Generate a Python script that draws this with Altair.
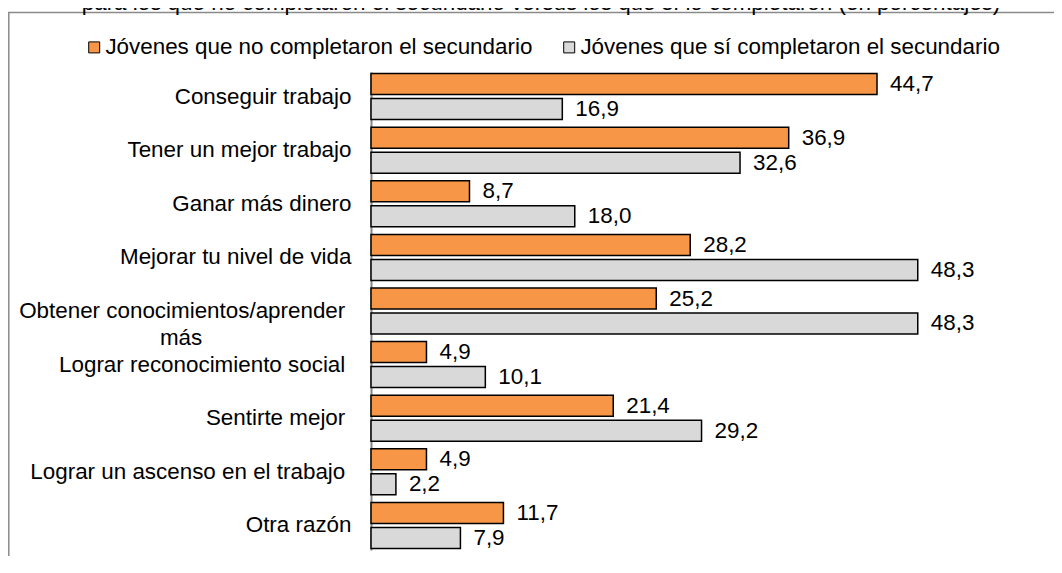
import altair as alt
import pandas as pd

categories = [
    "Conseguir trabajo",
    "Tener un mejor trabajo",
    "Ganar más dinero",
    "Mejorar tu nivel de vida",
    "Obtener conocimientos/aprender más",
    "Lograr reconocimiento social ",
    "Sentirte mejor ",
    "Lograr un ascenso en el trabajo ",
    "Otra razón",
]
series = [
    "Jóvenes que no completaron el secundario",
    "Jóvenes que sí completaron el secundario",
]
no_values = [44.7, 36.9, 8.7, 28.2, 25.2, 4.9, 21.4, 4.9, 11.7]
si_values = [16.9, 32.6, 18.0, 48.3, 48.3, 10.1, 29.2, 2.2, 7.9]
colors = ["#F79646", "#D9D9D9"]
title_text = ("para los que no completaron el secundario versus los que sí "
              "lo completaron (en porcentajes)")

NB = "\u00a0"
ZW = "\u200b"  # keeps trailing no-break spaces from being trimmed
FONT = "Liberation Sans"
FS = 22.4


def disp(c):
    return c[:-1] + NB + ZW if c.endswith(" ") else c


cats_disp = [disp(c) for c in categories]

rows = []
for i, c in enumerate(cats_disp):
    for s, vals in zip(series, [no_values, si_values]):
        v = vals[i]
        rows.append({"cat": c, "serie": s, "valor": v,
                     "etiqueta": f"{v:.1f}".replace(".", ",")})
df = pd.DataFrame(rows)

label_expr = (
    "indexof(datum.label, 'aprender más') >= 0 ? "
    "['Obtener conocimientos/aprender" + NB + ZW + "', 'más" + NB * 24 + ZW + "'] : datum.label"
)

y = alt.Y(
    "cat:N",
    sort=cats_disp,
    scale=alt.Scale(paddingInner=0.142, paddingOuter=0.03),
    axis=alt.Axis(
        title=None, ticks=False, grid=False,
        domainColor="#868686", domainWidth=2,
        labelFont=FONT, labelFontSize=FS, labelColor="black",
        labelPadding=20, labelLimit=600, labelLineHeight=27,
        labelExpr=label_expr,
    ),
)
yoff = alt.YOffset("serie:N", sort=series, scale=alt.Scale(paddingInner=0.16))
x = alt.X("valor:Q", scale=alt.Scale(domain=[0, 50]), axis=None)

base = alt.Chart(df)

bars = base.mark_bar(stroke="black", strokeWidth=1.5).encode(
    x=x, y=y, yOffset=yoff,
    color=alt.Color(
        "serie:N", sort=series,
        scale=alt.Scale(domain=series, range=colors),
        legend=alt.Legend(
            title=None, orient="none", legendX=-288, legendY=-36,
            direction="horizontal", symbolType="square", symbolSize=121,
            symbolStrokeColor="black", symbolStrokeWidth=1, symbolOpacity=1,
            labelFont=FONT, labelFontSize=FS, labelColor="black",
            labelLimit=700, labelOffset=0, columnPadding=25, padding=0,
        ),
    ),
)

labels = base.mark_text(
    align="left", baseline="middle", dx=13, font=FONT, fontSize=FS, color="black"
).encode(x=x, y=y, yOffset=yoff, text="etiqueta:N")

frame = alt.Chart(pd.DataFrame({"k": [0]})).mark_rect(
    fill="transparent", stroke="#8a8a8a", strokeWidth=1.5
).encode(
    x=alt.value(-362.2), x2=alt.value(900),
    y=alt.value(-59.5), y2=alt.value(700),
)

title = alt.Chart(pd.DataFrame({"t": [title_text]})).mark_text(
    align="center", baseline="alphabetic", font=FONT, fontSize=FS, color="black"
).encode(x=alt.value(170), y=alt.value(-62.5), text="t:N")

chart = alt.layer(frame, title, bars, labels).properties(
    width=566, height=478,
    padding={"left": 363, "top": 64, "right": 117, "bottom": 6},
    autosize=alt.AutoSizeParams(type="none"),
).configure(font=FONT).configure_view(strokeOpacity=0)

chart.save("out.html", embed_options={"renderer": "svg", "actions": False})
